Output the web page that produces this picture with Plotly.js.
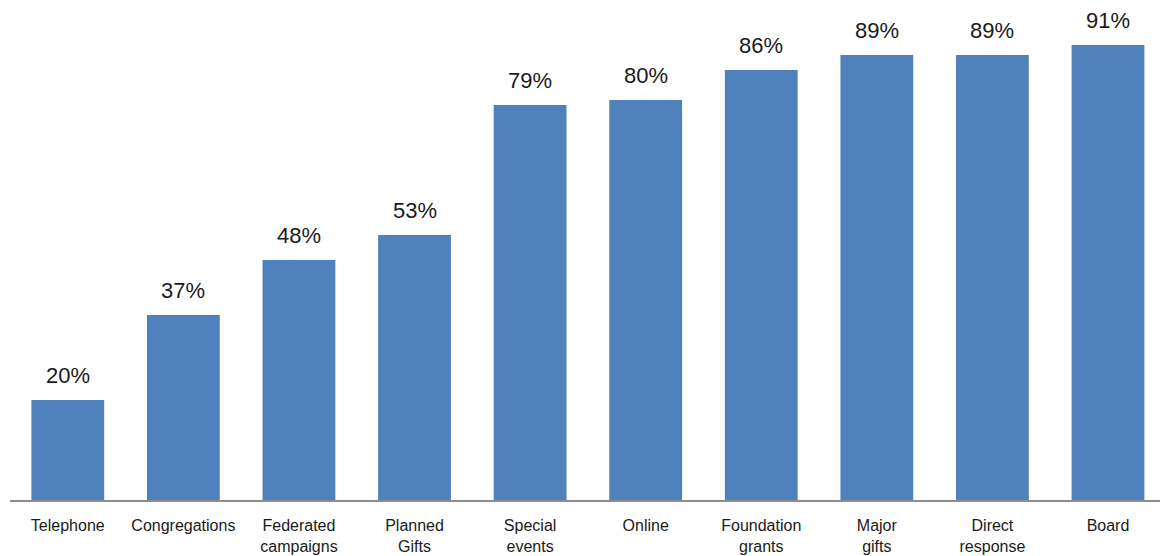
<!DOCTYPE html>
<html>
<head>
<meta charset="utf-8">
<script src="https://cdn.plot.ly/plotly-3.0.1.min.js"></script>
<style>html,body{margin:0;padding:0;background:#fff;}#chart{width:1160px;height:556px;}</style>
</head>
<body>
<div id="chart"></div>
<script>
const categories = ["Telephone", "Congregations", "Federated<br>campaigns", "Planned<br>Gifts", "Special<br>events", "Online", "Foundation<br>grants", "Major<br>gifts", "Direct<br>response", "Board"];
const values = [20, 37, 48, 53, 79, 80, 86, 89, 89, 91];
const valueLabels = values.map(v => v + "%");

const trace = {
  type: "bar",
  x: categories,
  y: values,
  marker: {color: "#4F81BD"},
  hoverinfo: "skip"
};

const annotations = categories.map((c, i) => ({
  x: c, y: values[i], xref: "x", yref: "y",
  text: valueLabels[i], showarrow: false,
  yanchor: "bottom", yshift: 10,
  font: {family: "Liberation Sans, Arial, sans-serif", size: 22, color: "#1a1a1a"}
}));

const layout = {
  width: 1160, height: 556,
  margin: {l: 10, r: 0, t: 0, b: 56},
  paper_bgcolor: "#fff", plot_bgcolor: "#fff",
  bargap: 0.37,
  showlegend: false,
  xaxis: {
    type: "category",
    range: [-0.5, 9.45],
    showline: true, linecolor: "#8c8c8c", linewidth: 2,
    ticks: "", showgrid: false, zeroline: false,
    ticklabelstandoff: 10,
    tickfont: {family: "Liberation Sans, Arial, sans-serif", size: 16, color: "#1a1a1a"}
  },
  yaxis: {
    range: [0, 100], visible: false, showgrid: false, zeroline: false
  },
  annotations: annotations
};

Plotly.newPlot("chart", [trace], layout, {displayModeBar: false, staticPlot: true});
</script>
</body>
</html>
